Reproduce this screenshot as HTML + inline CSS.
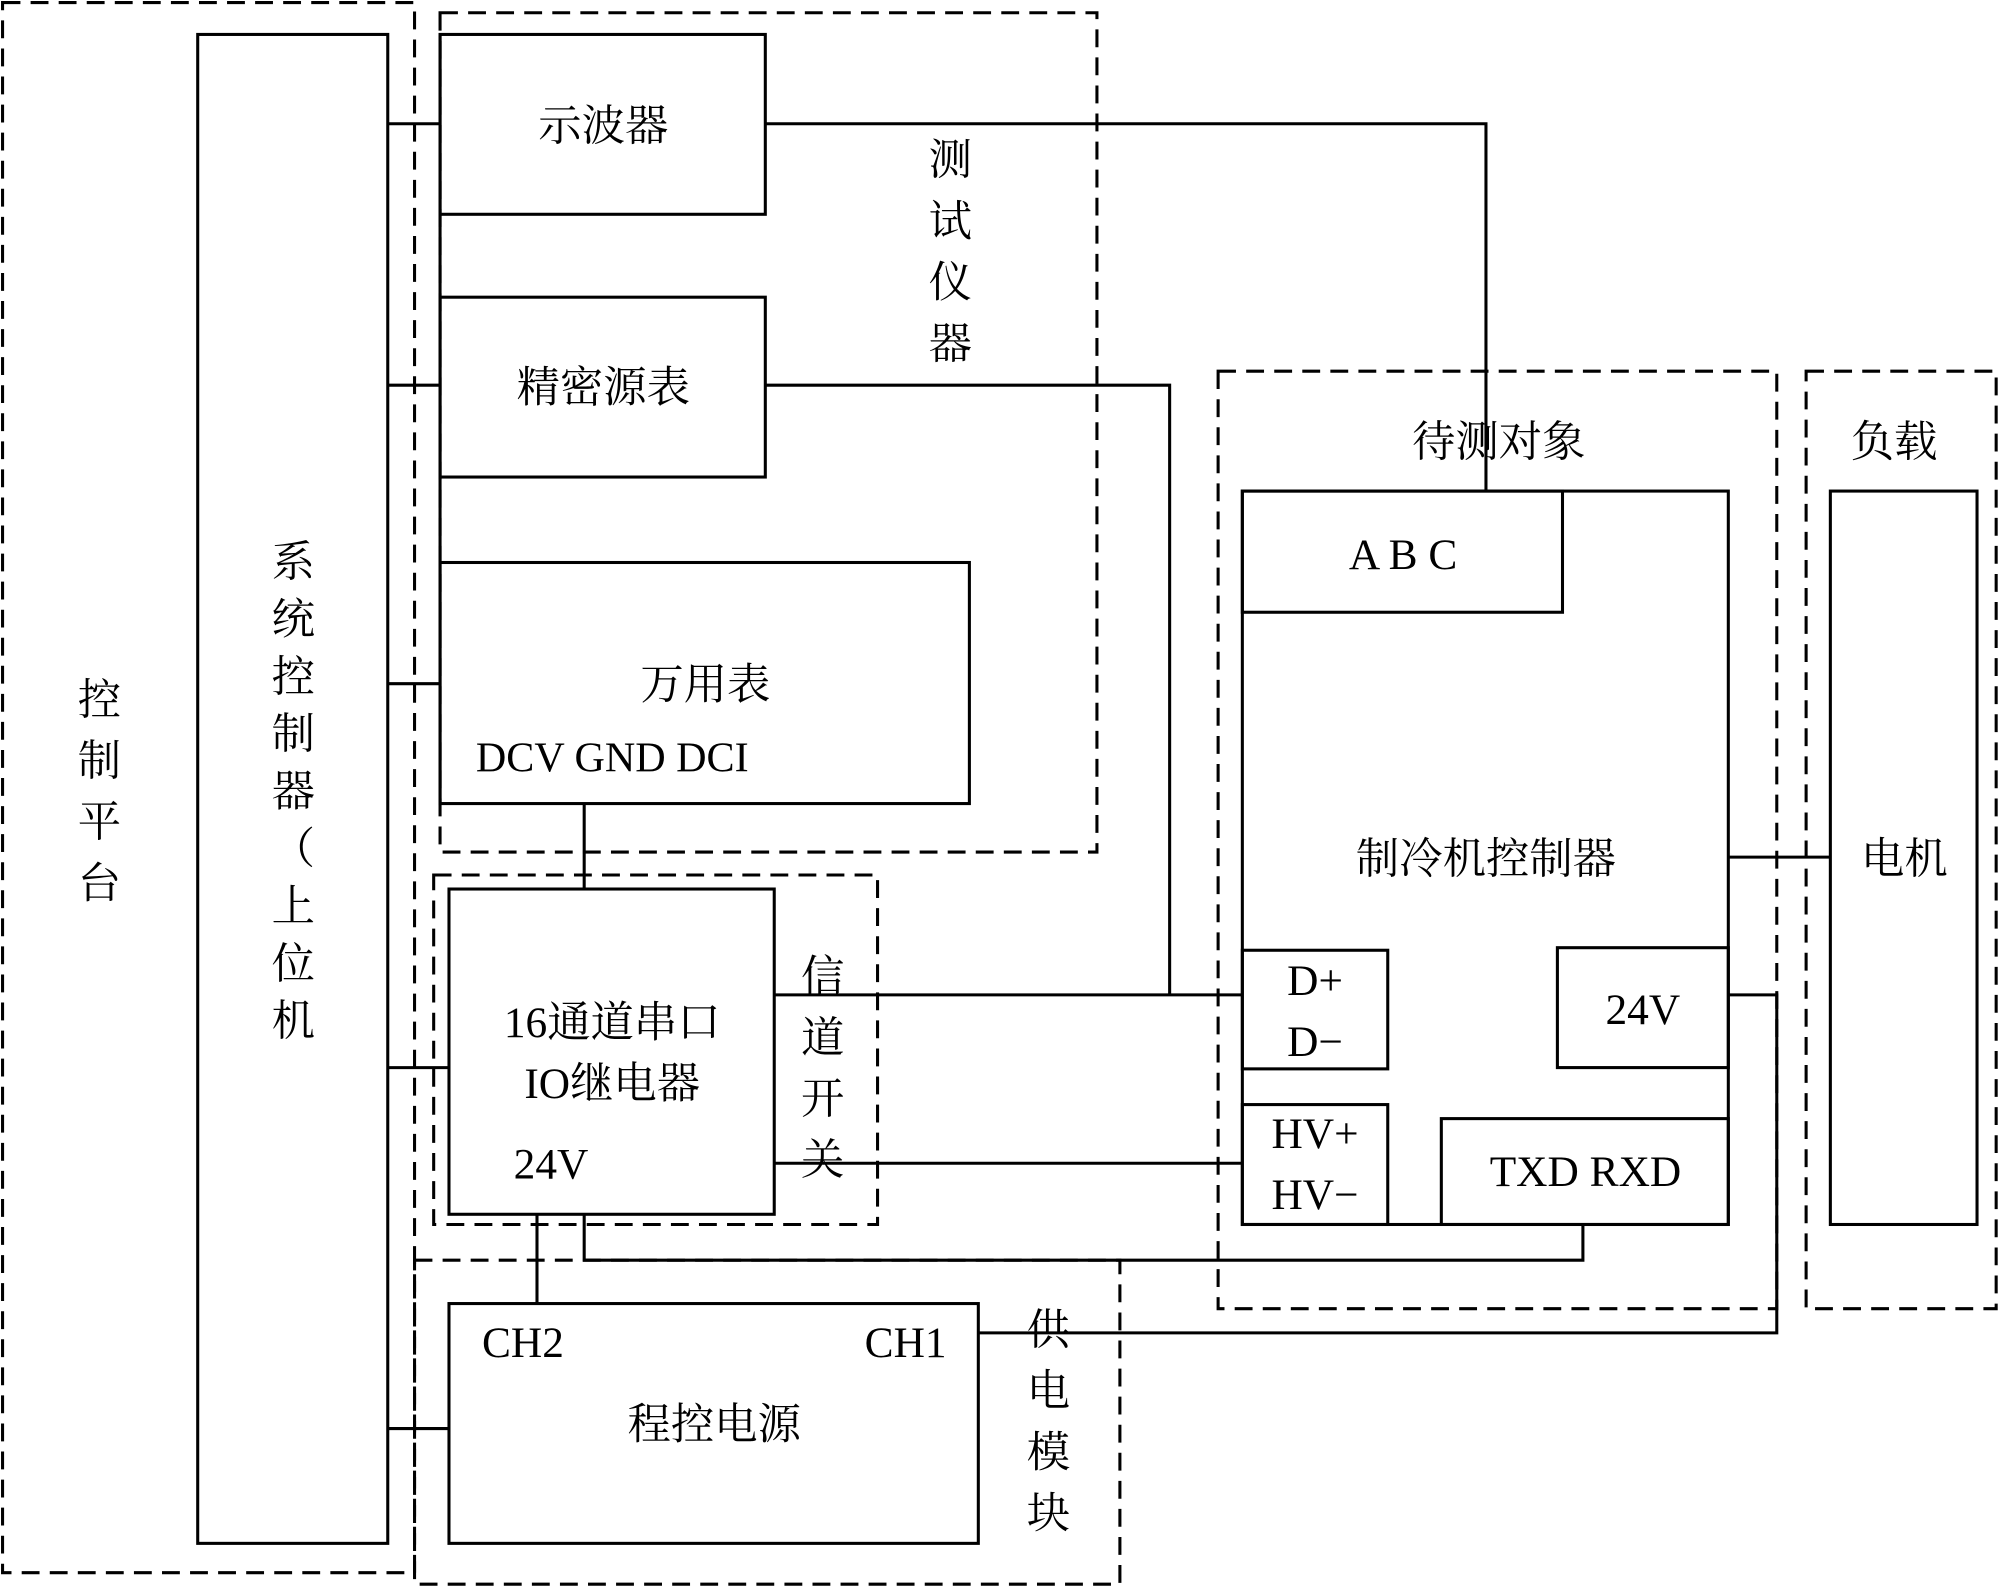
<!DOCTYPE html>
<html><head><meta charset="utf-8"><style>
html,body{margin:0;padding:0;background:#fff;}
svg{display:block;}
text{font-family:"Liberation Serif","Noto Serif CJK SC",serif;fill:#000;}
</style></head><body>
<svg width="2000" height="1588" viewBox="0 0 1568 1245" xmlns="http://www.w3.org/2000/svg">
<g fill="none" stroke="#000" stroke-width="2.4">
<!-- dashed regions -->
<g stroke-dasharray="14,8">
<rect x="2" y="2" width="323" height="1231"/>
<rect x="345" y="10" width="515" height="658"/>
<rect x="340" y="686" width="348" height="274"/>
<rect x="325" y="988" width="553" height="254"/>
<rect x="955" y="291" width="438" height="735"/>
<rect x="1416" y="291" width="149" height="735"/>
</g>
<!-- boxes -->
<rect x="155" y="27" width="149" height="1183"/>
<rect x="345" y="27" width="255" height="141"/>
<rect x="345" y="233" width="255" height="141"/>
<rect x="345" y="441" width="415" height="189"/>
<rect x="352" y="697" width="255" height="255"/>
<rect x="352" y="1022" width="415" height="188"/>
<rect x="974" y="385" width="381" height="575"/>
<rect x="974" y="385" width="251" height="95"/>
<rect x="974" y="745" width="114" height="93"/>
<rect x="974" y="866" width="114" height="94"/>
<rect x="1221" y="743" width="134" height="94"/>
<rect x="1130" y="877" width="225" height="83"/>
<rect x="1435" y="385" width="115" height="575"/>
<!-- connectors -->
<line x1="345" y1="27" x2="345" y2="630"/>
<line x1="304" y1="97" x2="345" y2="97"/>
<line x1="304" y1="302" x2="345" y2="302"/>
<line x1="304" y1="536" x2="345" y2="536"/>
<line x1="304" y1="837" x2="352" y2="837"/>
<line x1="304" y1="1120" x2="352" y2="1120"/>
<polyline points="600,97 1165,97 1165,385"/>
<polyline points="600,302 917,302 917,780"/>
<line x1="607" y1="780" x2="974" y2="780"/>
<line x1="607" y1="912" x2="974" y2="912"/>
<line x1="458" y1="630" x2="458" y2="697"/>
<polyline points="458,952 458,988 1241,988 1241,960"/>
<line x1="421" y1="952" x2="421" y2="1022"/>
<polyline points="767,1045 1393,1045 1393,780 1355,780"/>
<line x1="1355" y1="672" x2="1435" y2="672"/>
</g>
<g font-size="34" text-anchor="middle">
<text x="78" y="560">控</text><text x="78" y="608">制</text><text x="78" y="656">平</text><text x="78" y="704">台</text>
<text x="230" y="452">系</text><text x="230" y="497">统</text><text x="230" y="542">控</text><text x="230" y="587">制</text><text x="230" y="632">器</text><text x="230" y="677">（</text><text x="230" y="722">上</text><text x="230" y="767">位</text><text x="230" y="812">机</text>
<text x="230" y="800" font-size="0">）</text>
<text x="745" y="137">测</text><text x="745" y="185">试</text><text x="745" y="233">仪</text><text x="745" y="281">器</text>
<text x="473" y="110">示波器</text>
<text x="473" y="315">精密源表</text>
<text x="553" y="548">万用表</text>
<text x="480" y="605" font-size="33">DCV  GND  DCI</text>
<text x="480" y="813">16通道串口</text>
<text x="480" y="861">IO继电器</text>
<text x="432" y="924">24V</text>
<text x="645" y="777">信</text><text x="645" y="825">道</text><text x="645" y="873">开</text><text x="645" y="921">关</text>
<text x="410" y="1064">CH2</text>
<text x="710" y="1064">CH1</text>
<text x="560" y="1128">程控电源</text>
<text x="822" y="1054">供</text><text x="822" y="1102">电</text><text x="822" y="1150">模</text><text x="822" y="1198">块</text>
<text x="1175" y="358">待测对象</text>
<text x="1485" y="358">负载</text>
<text x="1100" y="446">A B C</text>
<text x="1165" y="685">制冷机控制器</text>
<text x="1493" y="685">电机</text>
<text x="1031" y="780">D+</text>
<text x="1031" y="828">D−</text>
<text x="1031" y="900">HV+</text>
<text x="1031" y="948">HV−</text>
<text x="1288" y="803">24V</text>
<text x="1243" y="930">TXD RXD</text>
</g>
</svg>
</body></html>
